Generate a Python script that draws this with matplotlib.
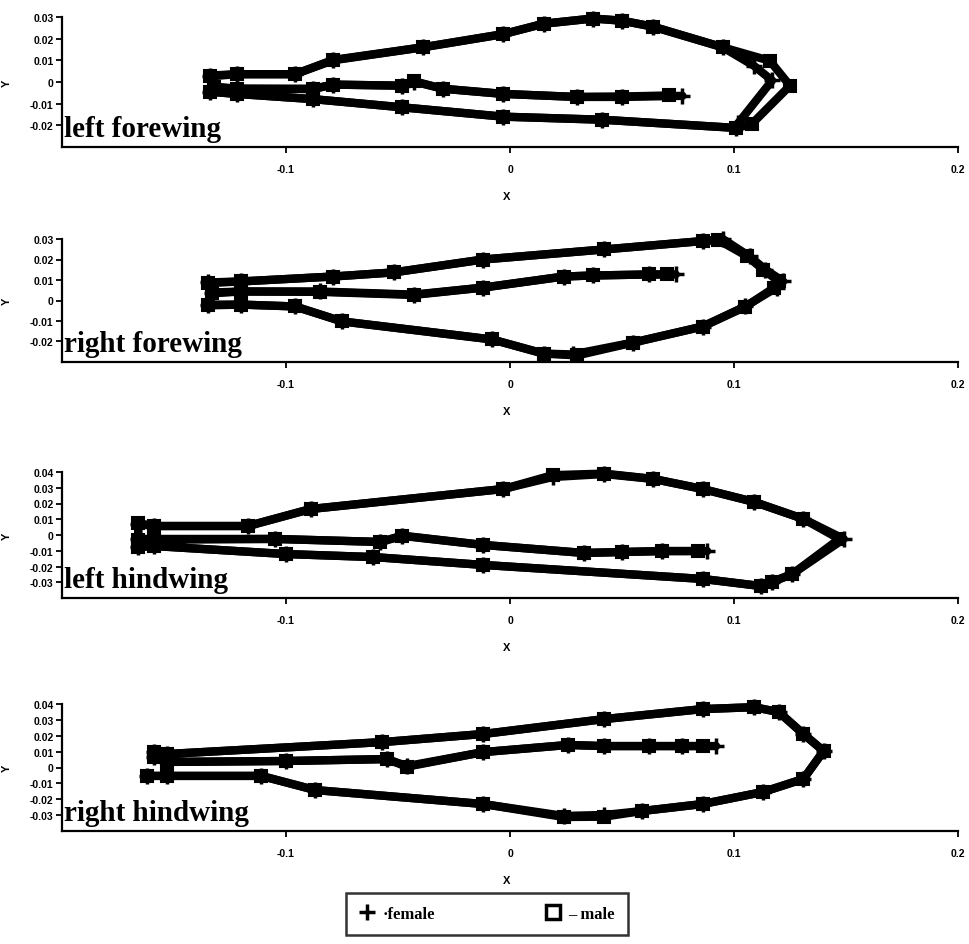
import matplotlib
matplotlib.use('Agg')
import matplotlib.pyplot as plt
from matplotlib.lines import Line2D

plt.rcParams['axes.unicode_minus'] = False

# ---------------- data (landmark outlines) ----------------
panel_titles = ['left forewing', 'right forewing', 'left hindwing', 'right hindwing']
x_ticks = [-0.1, 0, 0.1, 0.2]
x_tick_labels = ['-0.1', '0', '0.1', '0.2']
y_ticks_fore = [-0.02, -0.01, 0, 0.01, 0.02, 0.03]
y_tick_labels_fore = ['-0.02', '-0.01', '0', '0.01', '0.02', '0.03']
y_ticks_hind = [-0.03, -0.02, -0.01, 0, 0.01, 0.02, 0.03, 0.04]
y_tick_labels_hind = ['-0.03', '-0.02', '-0.01', '0', '0.01', '0.02', '0.03', '0.04']

# left forewing
lfw_female_x = [0.077, 0.050, 0.030, -0.003, -0.030, -0.043, -0.048, -0.079, -0.088, -0.122, -0.132,
                -0.134, -0.122, -0.096, -0.079, -0.039, -0.003, 0.015, 0.037, 0.050, 0.064, 0.095, 0.109,
                0.117, 0.102, 0.101, 0.041, -0.003, -0.048, -0.088, -0.122, -0.134]
lfw_female_y = [-0.0064, -0.0069, -0.0069, -0.0055, -0.0031, 0.0002, -0.0017, -0.0012, -0.0031, -0.0031, -0.0021,
                0.0026, 0.0036, 0.0036, 0.0102, 0.0160, 0.0221, 0.0269, 0.0293, 0.0283, 0.0255, 0.0160, 0.0074,
                0.0007, -0.0188, -0.0212, -0.0174, -0.0160, -0.0117, -0.0079, -0.0055, -0.0045]
lfw_male_x = [0.071, 0.050, 0.030, -0.003, -0.030, -0.043, -0.048, -0.079, -0.088, -0.122, -0.132,
              -0.134, -0.122, -0.096, -0.079, -0.039, -0.003, 0.015, 0.037, 0.050, 0.064, 0.095, 0.116,
              0.125, 0.108, 0.101, 0.041, -0.003, -0.048, -0.088, -0.122, -0.134]
lfw_male_y = [-0.0062, -0.0067, -0.0069, -0.0055, -0.0031, 0.0004, -0.0017, -0.0012, -0.0033, -0.0031, -0.0025,
              0.0030, 0.0036, 0.0036, 0.0100, 0.0160, 0.0221, 0.0269, 0.0293, 0.0283, 0.0255, 0.0160, 0.0098,
              -0.0017, -0.0193, -0.0212, -0.0174, -0.0160, -0.0117, -0.0079, -0.0055, -0.0045]

# right forewing
rfw_female_x = [0.074, 0.062, 0.037, 0.024, -0.012, -0.043, -0.085, -0.120, -0.133,
                -0.135, -0.120, -0.079, -0.052, -0.012, 0.042, 0.086, 0.095, 0.107, 0.114, 0.122,
                0.119, 0.105, 0.086, 0.055, 0.028, 0.015, -0.008, -0.075, -0.096, -0.120, -0.135]
rfw_female_y = [0.0127, 0.0127, 0.0122, 0.0117, 0.0063, 0.0029, 0.0044, 0.0044, 0.0039,
                0.0088, 0.0093, 0.0117, 0.0137, 0.0200, 0.0249, 0.0290, 0.0300, 0.0215, 0.0151, 0.0093,
                0.0063, -0.0029, -0.0127, -0.0205, -0.0263, -0.0259, -0.0190, -0.0102, -0.0029, -0.0020, -0.0020]
rfw_male_x = [0.070, 0.062, 0.037, 0.024, -0.012, -0.043, -0.085, -0.120, -0.133,
              -0.135, -0.120, -0.079, -0.052, -0.012, 0.042, 0.086, 0.093, 0.106, 0.113, 0.120,
              0.118, 0.105, 0.086, 0.055, 0.030, 0.015, -0.008, -0.075, -0.096, -0.120, -0.135]
rfw_male_y = [0.0127, 0.0127, 0.0122, 0.0117, 0.0063, 0.0027, 0.0042, 0.0044, 0.0035,
              0.0085, 0.0093, 0.0117, 0.0137, 0.0200, 0.0249, 0.0290, 0.0295, 0.0215, 0.0151, 0.0093,
              0.0063, -0.0031, -0.0127, -0.0205, -0.0268, -0.0259, -0.0190, -0.0102, -0.0029, -0.0020, -0.0024]

# left hindwing
lhw_female_x = [0.088, 0.068, 0.050, 0.033, -0.012, -0.048, -0.058, -0.105, -0.159, -0.166,
                -0.166, -0.159, -0.117, -0.089, -0.003, 0.019, 0.042, 0.064, 0.086, 0.109, 0.131, 0.149,
                0.126, 0.117, 0.112, 0.086, -0.012, -0.061, -0.100, -0.159, -0.166]
lhw_female_y = [-0.0102, -0.0102, -0.0108, -0.0114, -0.0063, -0.0006, -0.0044, -0.0025, -0.0025, -0.0025,
                0.0070, 0.0057, 0.0057, 0.0165, 0.0292, 0.0368, 0.0387, 0.0356, 0.0292, 0.0210, 0.0102, -0.0025,
                -0.0248, -0.0298, -0.0324, -0.0279, -0.0190, -0.0140, -0.0121, -0.0070, -0.0076]
lhw_male_x = [0.084, 0.068, 0.050, 0.033, -0.012, -0.048, -0.058, -0.105, -0.159, -0.166,
              -0.166, -0.159, -0.117, -0.089, -0.003, 0.019, 0.042, 0.064, 0.086, 0.109, 0.131, 0.147,
              0.126, 0.117, 0.112, 0.086, -0.012, -0.061, -0.100, -0.159, -0.166]
lhw_male_y = [-0.0102, -0.0102, -0.0108, -0.0114, -0.0063, -0.0004, -0.0044, -0.0025, -0.0030, -0.0030,
              0.0075, 0.0057, 0.0057, 0.0165, 0.0292, 0.0380, 0.0390, 0.0356, 0.0292, 0.0210, 0.0102, -0.0025,
              -0.0248, -0.0298, -0.0324, -0.0279, -0.0190, -0.0140, -0.0121, -0.0070, -0.0076]

# right hindwing
rhw_female_x = [0.092, 0.077, 0.062, 0.042, 0.026, -0.012, -0.046, -0.055, -0.100, -0.153, -0.159,
                -0.159, -0.153, -0.057, -0.012, 0.042, 0.086, 0.109, 0.120, 0.131, 0.140,
                0.131, 0.113, 0.086, 0.059, 0.042, 0.024, -0.012, -0.087, -0.111, -0.153, -0.162]
rhw_female_y = [0.0135, 0.0135, 0.0135, 0.0135, 0.0142, 0.0097, 0.0009, 0.0053, 0.0041, 0.0035, 0.0066,
                0.0097, 0.0085, 0.0160, 0.0211, 0.0305, 0.0368, 0.0380, 0.0349, 0.0211, 0.0104,
                -0.0072, -0.0154, -0.0230, -0.0274, -0.0299, -0.0305, -0.0230, -0.0142, -0.0053, -0.0053, -0.0053]
rhw_male_x = [0.086, 0.077, 0.062, 0.042, 0.026, -0.012, -0.046, -0.055, -0.100, -0.153, -0.159,
              -0.159, -0.153, -0.057, -0.012, 0.042, 0.086, 0.109, 0.120, 0.131, 0.140,
              0.131, 0.113, 0.086, 0.059, 0.042, 0.024, -0.012, -0.087, -0.111, -0.153, -0.162]
rhw_male_y = [0.0135, 0.0135, 0.0135, 0.0135, 0.0142, 0.0097, 0.0005, 0.0053, 0.0041, 0.0035, 0.0066,
              0.0097, 0.0085, 0.0160, 0.0211, 0.0305, 0.0368, 0.0380, 0.0349, 0.0211, 0.0104,
              -0.0072, -0.0154, -0.0230, -0.0274, -0.0310, -0.0312, -0.0230, -0.0142, -0.0053, -0.0053, -0.0053]

female_x = [lfw_female_x, rfw_female_x, lhw_female_x, rhw_female_x]
female_y = [lfw_female_y, rfw_female_y, lhw_female_y, rhw_female_y]
male_x = [lfw_male_x, rfw_male_x, lhw_male_x, rhw_male_x]
male_y = [lfw_male_y, rfw_male_y, lhw_male_y, rhw_male_y]

# ---------------- layout ----------------
W, H = 969, 945
fig = plt.figure(figsize=(W / 100, H / 100), dpi=100)
fig.patch.set_facecolor('white')

# (top_px, bottom_px) of each axes
panel_px = [(18, 148), (240, 363), (473, 599), (705, 832)]
left_px, right_px = 62, 958
ylims = [(-0.03, 0.03), (-0.03, 0.03), (-0.04, 0.04), (-0.04, 0.04)]
yticks = [y_ticks_fore, y_ticks_fore, y_ticks_hind, y_ticks_hind]
yticklabels = [y_tick_labels_fore, y_tick_labels_fore, y_tick_labels_hind, y_tick_labels_hind]

tick_font = dict(family=['Liberation Sans Narrow', 'Liberation Sans', 'DejaVu Sans'], weight='bold', size=7.5)
serif = ['Liberation Serif', 'DejaVu Serif']

for i in range(4):
    top, bot = panel_px[i]
    ax = fig.add_axes([left_px / W, 1 - bot / H, (right_px - left_px) / W, (bot - top) / H])
    ax.set_xlim(-0.2, 0.2)
    ax.set_ylim(*ylims[i])
    for s in ['top', 'right']:
        ax.spines[s].set_visible(False)
    for s in ['left', 'bottom']:
        ax.spines[s].set_linewidth(1.6)
    ax.set_xticks(x_ticks)
    ax.set_xticklabels(x_tick_labels, fontdict=tick_font)
    ax.set_yticks(yticks[i])
    ax.set_yticklabels(yticklabels[i], fontdict=tick_font)
    ax.tick_params(axis='both', direction='out', length=4, width=1.3)
    ax.tick_params(axis='x', pad=8)
    ax.tick_params(axis='y', pad=2)
    ax.set_xlabel('X', fontdict=dict(family=['Liberation Sans', 'DejaVu Sans'], weight='bold', size=8))
    ax.set_ylabel('Y', fontdict=dict(family=['Liberation Sans', 'DejaVu Sans'], weight='bold', size=8))
    hpx = bot - top
    ax.xaxis.set_label_coords((507 - left_px) / (right_px - left_px), -44 / hpx)
    ax.yaxis.set_label_coords(-50 / (right_px - left_px), 0.5)

    ax.plot(male_x[i], male_y[i], color='black', lw=6, marker='s', ms=9,
            mfc='black', mec='black', mew=1.5, solid_joinstyle='round',
            solid_capstyle='round', zorder=2, clip_on=False)
    ax.plot(female_x[i], female_y[i], color='black', lw=6, marker='+', ms=12,
            mec='black', mew=2.5, solid_joinstyle='round',
            solid_capstyle='round', zorder=3, clip_on=False)

    ax.text(0.002, 0.04, panel_titles[i], transform=ax.transAxes, ha='left', va='bottom',
            fontfamily=serif, fontweight='bold', fontsize=21, color='black', zorder=5)

handles = [
    Line2D([], [], color='black', marker='+', ls='none', ms=12, mew=2.5),
    Line2D([], [], color='black', marker='s', ls='none', ms=10, mfc='none', mew=2.5),
]
leg = fig.legend(handles, ['\u00b7female', '\u2013 male'], loc='center',
                 bbox_to_anchor=(487 / W, 1 - 915 / H), ncol=2, frameon=True, fancybox=False,
                 edgecolor='black', handlelength=1.0, handletextpad=0.4, columnspacing=6.6,
                 borderpad=0.8, borderaxespad=0, prop=dict(family=serif, weight='bold', size=12))
leg.get_frame().set_linewidth(1.8)

fig.savefig('out.png', dpi=100, facecolor='white')
